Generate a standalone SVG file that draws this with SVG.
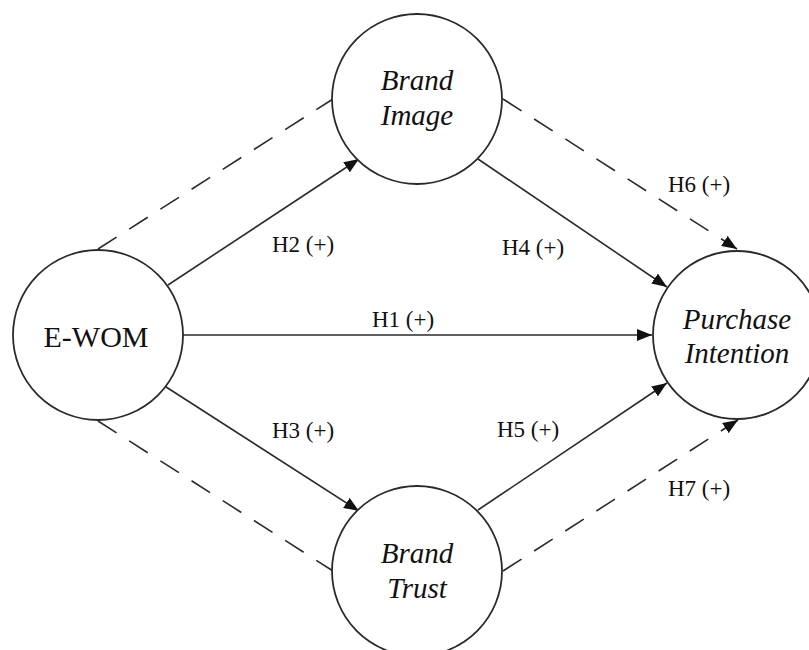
<svg xmlns="http://www.w3.org/2000/svg" width="809" height="650" viewBox="0 0 809 650">
<style>
.node{fill:#fff;stroke:#2a2a2a;stroke-width:1.8}
.lbl{font-family:"Liberation Serif","Times New Roman",serif;fill:#111}
.nt{font-size:29px;text-anchor:middle}
.big{font-size:30px}
.it{font-style:italic}
.h{font-size:23px}
.c{stroke:#2a2a2a;stroke-width:1.6;fill:none}
.d{stroke-dasharray:22 15}
</style>
<defs>
<marker id="ah" markerUnits="userSpaceOnUse" markerWidth="15" markerHeight="12" refX="15" refY="6" orient="auto">
<path d="M0,0 L15,6 L0,12 z" fill="#111"/>
</marker>
</defs>
<rect width="809" height="650" fill="#fff"/>
<g id="connectors">
<line class="c" x1="183" y1="335" x2="652" y2="335" marker-end="url(#ah)"/>
<line class="c" x1="168" y1="285" x2="359" y2="159" marker-end="url(#ah)"/>
<line class="c" x1="163" y1="385" x2="359" y2="511" marker-end="url(#ah)"/>
<line class="c" x1="478" y1="159" x2="667" y2="287" marker-end="url(#ah)"/>
<line class="c" x1="478" y1="510" x2="667" y2="383" marker-end="url(#ah)"/>
<line class="c d" x1="503" y1="99" x2="737" y2="249" marker-end="url(#ah)"/>
<line class="c d" x1="503" y1="571" x2="738" y2="420" marker-end="url(#ah)"/>
<line class="c d" x1="98" y1="249" x2="333" y2="99"/>
<line class="c d" x1="98" y1="421" x2="333" y2="571"/>
</g>
<g id="ewom">
<circle class="node" cx="98" cy="335" r="85"/>
<text class="lbl nt big" x="96" y="347">E-WOM</text>
</g>
<g id="brand-image">
<circle class="node" cx="417" cy="99" r="85"/>
<text class="lbl nt it" x="417" y="90">Brand</text>
<text class="lbl nt it" x="417" y="125">Image</text>
</g>
<g id="brand-trust">
<circle class="node" cx="417" cy="571" r="85"/>
<text class="lbl nt it" x="417" y="563">Brand</text>
<text class="lbl nt it" x="417" y="598">Trust</text>
</g>
<g id="purchase-intention">
<circle class="node" cx="737" cy="335" r="84"/>
<text class="lbl nt it" x="737" y="329">Purchase</text>
<text class="lbl nt it" x="737" y="363">Intention</text>
</g>
<g id="labels">
<text class="lbl h" x="372" y="327">H1 (+)</text>
<text class="lbl h" x="272" y="252">H2 (+)</text>
<text class="lbl h" x="272" y="438">H3 (+)</text>
<text class="lbl h" x="502" y="255">H4 (+)</text>
<text class="lbl h" x="497" y="437">H5 (+)</text>
<text class="lbl h" x="668" y="192">H6 (+)</text>
<text class="lbl h" x="668" y="496">H7 (+)</text>
</g>
</svg>
